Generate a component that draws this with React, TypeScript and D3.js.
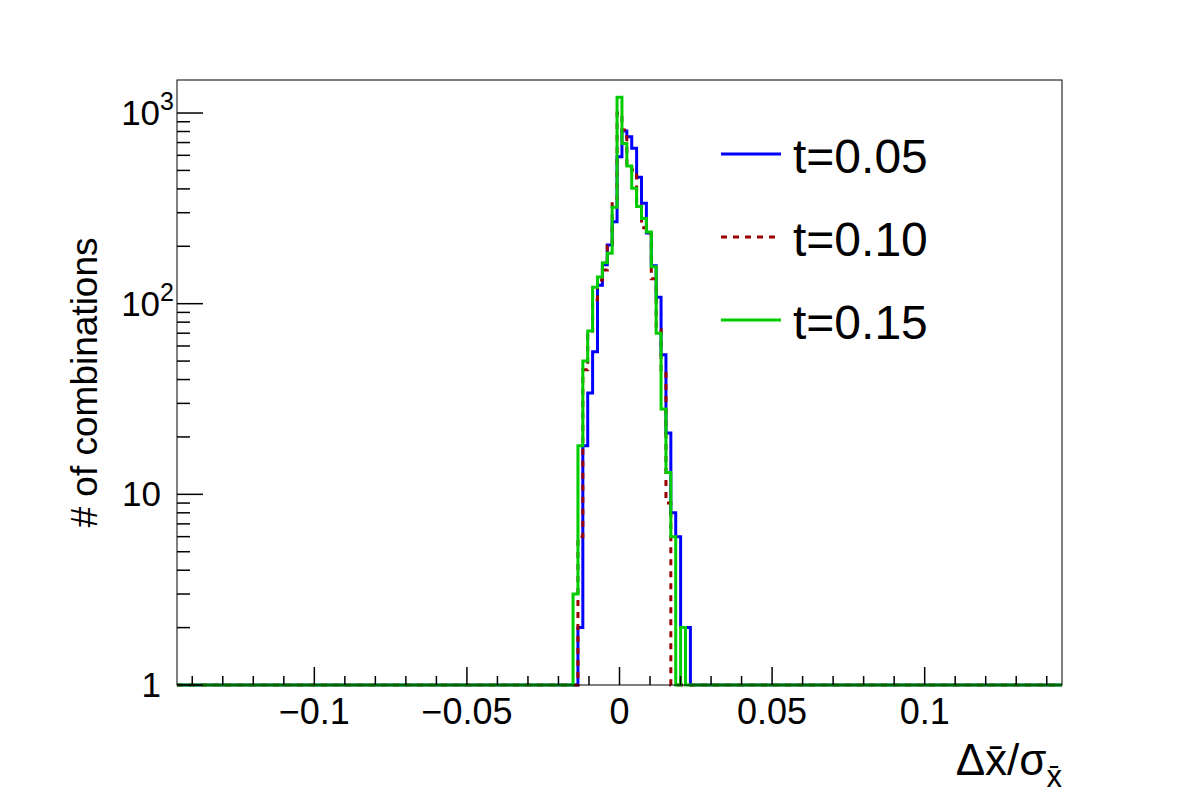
import React from "react";
import * as d3 from "d3";

// histogram binning (181 bins over the x range)
const xLow = -0.145;
const xHigh = 0.145;
const nBins = 181;
const firstFilledBin = 81; // bin index of the first entry in the arrays below

// bin contents, starting at firstFilledBin
const t005 = [0, 2, 18, 34, 56, 125, 160, 203, 269, 590, 805, 750, 653, 460, 336, 235, 158, 108, 54, 21, 8, 6, 2, 2];
const t010 = [0, 6, 45, 70, 105, 133, 150, 200, 350, 1000, 815, 530, 502, 340, 250, 235, 135, 73, 44, 9, 0, 0, 0, 0];
const t015 = [3, 18, 50, 72, 122, 138, 164, 184, 320, 1208, 693, 527, 403, 323, 280, 238, 156, 70, 28, 13, 6, 0, 2, 0];

const seriesNames = ["t=0.05", "t=0.10", "t=0.15"];
const xTickLabels = ["\u22120.1", "\u22120.05", "0", "0.05", "0.1"];
const xTickValues = [-0.1, -0.05, 0, 0.05, 0.1];
const yTickValues = [1, 10, 100, 1000];
const yMax = 1490;

const W = 1182;
const H = 805;
const frame = { left: 177, right: 1062, top: 80, bottom: 685 };
const font = "'Liberation Sans', Arial, Helvetica, sans-serif";

const styles = [
  { color: "#0000ff", dash: undefined },
  { color: "#990000", dash: "6,6" },
  { color: "#00cc00", dash: undefined },
];

export default function App() {
  const x = d3.scaleLinear().domain([xLow, xHigh]).range([frame.left, frame.right]);
  const y = d3.scaleLog().domain([1, yMax]).range([frame.bottom, frame.top]).clamp(true);
  const binW = (xHigh - xLow) / nBins;

  const stepPath = (vals: number[]) => {
    const pts: [number, number][] = [];
    for (let i = 0; i < nBins; i++) {
      const j = i - firstFilledBin;
      const v = j >= 0 && j < vals.length ? vals[j] : 0;
      pts.push([xLow + i * binW, Math.max(v, 1)]);
    }
    pts.push([xHigh, pts[pts.length - 1][1]]);
    return d3
      .line<[number, number]>()
      .x((d) => x(d[0]))
      .y((d) => y(d[1]))
      .curve(d3.curveStepAfter)(pts) as string;
  };

  const series = [t005, t010, t015];

  // minor ticks
  const xMinor = d3.range(-14, 15).map((i) => i * 0.01).filter((v) => Math.abs(Math.round(v * 100) % 5) !== 0);
  const yMinor: number[] = [];
  for (const dec of [1, 10, 100, 1000]) {
    for (let m = 2; m <= 9; m++) if (m * dec <= yMax) yMinor.push(m * dec);
  }

  const legendY = [154, 237, 320];

  return (
    <svg width={W} height={H} style={{ position: "absolute", left: 0, top: 0, background: "#fff" }} fontFamily={font}>
      <rect x={0} y={0} width={W} height={H} fill="#fff" />

      {/* histograms */}
      {series.map((vals, i) => (
        <path
          key={i}
          d={stepPath(vals)}
          fill="none"
          stroke={styles[i].color}
          strokeWidth={3}
          strokeDasharray={styles[i].dash}
        />
      ))}

      {/* frame */}
      <rect
        x={frame.left}
        y={frame.top}
        width={frame.right - frame.left}
        height={frame.bottom - frame.top}
        fill="none"
        stroke="#000"
        strokeWidth={1}
      />

      {/* x ticks */}
      {xTickValues.map((v) => (
        <line key={"xM" + v} x1={x(v)} x2={x(v)} y1={frame.bottom} y2={frame.bottom - 18} stroke="#000" strokeWidth={1.5} />
      ))}
      {xMinor.map((v) => (
        <line key={"xm" + v} x1={x(v)} x2={x(v)} y1={frame.bottom} y2={frame.bottom - 9} stroke="#000" strokeWidth={1.5} />
      ))}
      {xTickValues.map((v, i) => (
        <text key={"xl" + v} x={x(v)} y={724} fontSize={36} textAnchor="middle">
          {xTickLabels[i]}
        </text>
      ))}

      {/* y ticks */}
      {yTickValues.map((v) => (
        <line key={"yM" + v} x1={frame.left} x2={frame.left + 26} y1={y(v)} y2={y(v)} stroke="#000" strokeWidth={1.5} />
      ))}
      {yMinor.map((v) => (
        <line key={"ym" + v} x1={frame.left} x2={frame.left + 13} y1={y(v)} y2={y(v)} stroke="#000" strokeWidth={1.5} />
      ))}
      {yTickValues.map((v) => {
        const p = Math.round(Math.log10(v));
        if (p <= 1)
          return (
            <text key={"yl" + v} x={161} y={y(v) + 12} fontSize={35} textAnchor="end">
              {String(v)}
            </text>
          );
        return (
          <text key={"yl" + v} x={174} y={y(v) + 12} fontSize={35} textAnchor="end">
            10
            <tspan fontSize={25} dy={-15}>
              {String(p)}
            </tspan>
          </text>
        );
      })}

      {/* axis titles */}
      <text transform={`translate(97,${(frame.top + frame.bottom) / 2}) rotate(-90)`} fontSize={37} textAnchor="middle">
        # of combinations
      </text>
      <text x={frame.right} y={775} fontSize={44} textAnchor="end">
        {"\u0394x\u0304/\u03c3"}
        <tspan fontSize={31} dy={12}>
          {"x\u0304"}
        </tspan>
      </text>

      {/* legend */}
      {seriesNames.map((name, i) => (
        <g key={name}>
          <line
            x1={721}
            x2={781}
            y1={legendY[i]}
            y2={legendY[i]}
            stroke={styles[i].color}
            strokeWidth={3}
            strokeDasharray={styles[i].dash}
          />
          <text x={793} y={legendY[i] + 19} fontSize={48}>
            {name}
          </text>
        </g>
      ))}
    </svg>
  );
}
